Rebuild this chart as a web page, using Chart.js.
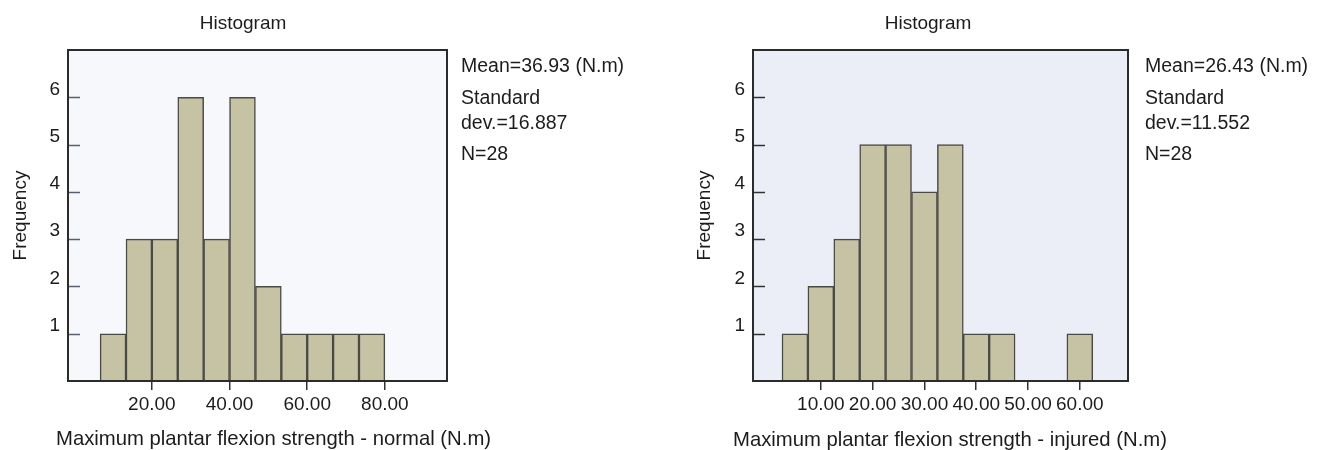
<!DOCTYPE html>
<html>
<head>
<meta charset="utf-8">
<script src="https://cdn.jsdelivr.net/npm/chart.js@4.4.1/dist/chart.umd.min.js"></script>
<style>
  body { margin: 0; background: #fff; font-family: "Liberation Sans", Arial, sans-serif; color: #1c1c1c; }
  #wrap { position: relative; width: 1327px; height: 450px; overflow: hidden; }
  canvas { position: absolute; top: 0; }
  .htitle { position: absolute; top: 12px; font-size: 19px; line-height: 22px; transform: translateX(-50%); white-space: nowrap; }
  .stat { position: absolute; font-size: 19.5px; line-height: 22px; white-space: nowrap; }
  .xtitle { position: absolute; font-size: 20.3px; line-height: 22px; white-space: nowrap; }
</style>
</head>
<body>
<div id="wrap">
  <canvas id="normalChart" width="663" height="450" style="left:0"></canvas>
  <canvas id="injuredChart" width="664" height="450" style="left:663px"></canvas>
</div>
<script>
// histogram bins (centres) and counts
var normalBins = [10.0, 16.67, 23.33, 30.0, 36.67, 43.33, 50.0, 56.67, 63.33, 70.0, 76.67];
var normalCounts = [1, 3, 3, 6, 3, 6, 2, 1, 1, 1, 1];
var normalTicks = [20, 40, 60, 80];

var injuredBins = [5, 10, 15, 20, 25, 30, 35, 40, 45, 50, 55, 60];
var injuredCounts = [1, 2, 3, 5, 5, 4, 5, 1, 1, 0, 0, 1];
var injuredTicks = [10, 20, 30, 40, 50, 60];

var freqTicks = [1, 2, 3, 4, 5, 6];

var normalStats = ['Mean=36.93 (N.m)', 'Standard', 'dev.=16.887', 'N=28'];
var injuredStats = ['Mean=26.43 (N.m)', 'Standard', 'dev.=11.552', 'N=28'];

var FONT = { family: '"Liberation Sans", Arial, sans-serif', size: 19 };
var INK = '#1c1c1c';

// background, frame and the inward y tick marks
var boxPlugin = {
  id: 'box',
  beforeDatasetsDraw: function (chart, args, opts) {
    var a = chart.chartArea, ctx = chart.ctx;
    ctx.save();
    ctx.fillStyle = opts.bg;
    ctx.fillRect(a.left, a.top, a.right - a.left, a.bottom - a.top);
    ctx.restore();
  },
  afterDatasetsDraw: function (chart, args, opts) {
    var a = chart.chartArea, ctx = chart.ctx, y = chart.scales.y;
    ctx.save();
    ctx.strokeStyle = opts.tickColor;
    ctx.lineWidth = 1.5;
    for (var i = 0; i < freqTicks.length; i++) {
      var py = Math.round(y.getPixelForValue(freqTicks[i])) + 0.5;
      ctx.beginPath();
      ctx.moveTo(a.left, py);
      ctx.lineTo(a.left + 12, py);
      ctx.stroke();
    }
    ctx.strokeStyle = '#2b2b2b';
    ctx.lineWidth = 2;
    ctx.strokeRect(a.left, a.top, a.right - a.left, a.bottom - a.top);
    ctx.restore();
  }
};

function makeHist(id, bins, counts, xTicks, cfg) {
  var points = [];
  for (var i = 0; i < bins.length; i++) points.push({ x: bins[i], y: counts[i] });

  return new Chart(document.getElementById(id), {
    type: 'bar',
    data: {
      datasets: [{
        data: points,
        backgroundColor: '#c6c3a5',
        borderColor: '#4a4a44',
        borderWidth: 1.5,
        barPercentage: 1,
        categoryPercentage: 1
      }]
    },
    options: {
      responsive: false,
      animation: false,
      layout: { padding: { left: 0, top: 50, right: cfg.padRight, bottom: 0 } },
      plugins: {
        legend: { display: false },
        tooltip: { enabled: false },
        box: { bg: cfg.bg, tickColor: cfg.tickColor }
      },
      scales: {
        x: {
          type: 'linear',
          min: cfg.xMin,
          max: cfg.xMax,
          offset: false,
          afterBuildTicks: function (s) { s.ticks = xTicks.map(function (v) { return { value: v }; }); },
          afterFit: function (s) { s.height = 69; },
          ticks: {
            font: FONT, color: INK, padding: 3, maxRotation: 0, autoSkip: false,
            callback: function (v) { return Number(v).toFixed(2); }
          },
          grid: { display: true, offset: false, drawOnChartArea: false, drawTicks: true, tickLength: 9, color: '#333', lineWidth: 1.5 },
          border: { display: false }
        },
        y: {
          min: 0,
          max: 7,
          afterBuildTicks: function (s) { s.ticks = freqTicks.map(function (v) { return { value: v }; }); },
          afterFit: function (s) { s.width = cfg.yWidth; },
          ticks: { font: FONT, color: INK, padding: 8, labelOffset: -8 },
          grid: { display: false, drawTicks: false },
          border: { display: false },
          title: { display: true, text: 'Frequency', font: FONT, color: INK, padding: { top: cfg.yTitlePad, bottom: 0 } }
        }
      }
    },
    plugins: [boxPlugin]
  });
}

function addText(t) {
  var wrap = document.getElementById('wrap');
  var h = document.createElement('div');
  h.className = 'htitle';
  h.style.left = t.titleX + 'px';
  h.textContent = 'Histogram';
  wrap.appendChild(h);

  var x = document.createElement('div');
  x.className = 'xtitle';
  x.style.left = t.xTitleX + 'px';
  x.style.top = t.xTitleY + 'px';
  x.textContent = t.xTitle;
  wrap.appendChild(x);

  var tops = [54, 86, 111, 142];
  for (var i = 0; i < t.stats.length; i++) {
    var d = document.createElement('div');
    d.className = 'stat';
    d.style.left = t.statX + 'px';
    d.style.top = tops[i] + 'px';
    d.textContent = t.stats[i];
    wrap.appendChild(d);
  }
}

makeHist('normalChart', normalBins, normalCounts, normalTicks, {
  xMin: -1.6, xMax: 96, padRight: 216, yWidth: 68, yTitlePad: 9,
  bg: '#f6f8fc', tickColor: '#556072'
});
makeHist('injuredChart', injuredBins, injuredCounts, injuredTicks, {
  xMin: -3.1, xMax: 69.3, padRight: 199, yWidth: 90, yTitlePad: 30,
  bg: '#eceef7', tickColor: '#333'
});

addText({ titleX: 243, statX: 461, stats: normalStats, xTitleX: 56, xTitleY: 427,
  xTitle: 'Maximum plantar flexion strength - normal (N.m)' });
addText({ titleX: 928, statX: 1145, stats: injuredStats, xTitleX: 733, xTitleY: 428,
  xTitle: 'Maximum plantar flexion strength - injured (N.m)' });
</script>
</body>
</html>
